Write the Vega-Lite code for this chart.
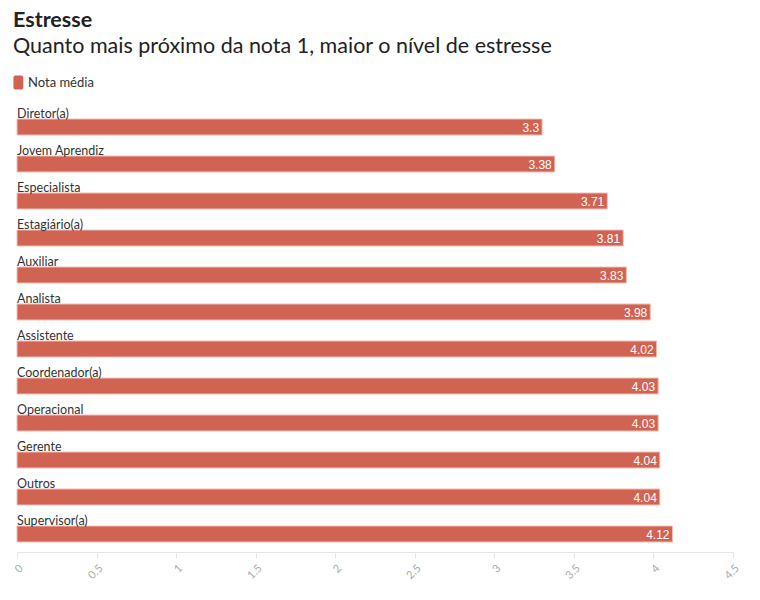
{
  "$schema": "https://vega.github.io/schema/vega-lite/v6.json",
  "width": 716,
  "height": 444,
  "autosize": {"type": "none"},
  "padding": {"left": 17, "top": 100, "right": 27, "bottom": 56},
  "background": "white",
  "title": {
    "text": "Estresse",
    "subtitle": "Quanto mais próximo da nota 1, maior o nível de estresse",
    "anchor": "start",
    "frame": "group",
    "dx": -4,
    "font": "Lato",
    "fontSize": 21.5,
    "fontWeight": "bold",
    "color": "#222222",
    "subtitleFont": "Lato",
    "subtitleFontSize": 21.5,
    "subtitleColor": "#222222",
    "subtitlePadding": 4,
    "offset": 18
  },
  "config": {
    "view": {"stroke": null},
    "font": "Lato"
  },
  "data": {
    "values": [
      {"cargo": "Diretor(a)", "nota": 3.3},
      {"cargo": "Jovem Aprendiz", "nota": 3.38},
      {"cargo": "Especialista", "nota": 3.71},
      {"cargo": "Estagiário(a)", "nota": 3.81},
      {"cargo": "Auxiliar", "nota": 3.83},
      {"cargo": "Analista", "nota": 3.98},
      {"cargo": "Assistente", "nota": 4.02},
      {"cargo": "Coordenador(a)", "nota": 4.03},
      {"cargo": "Operacional", "nota": 4.03},
      {"cargo": "Gerente", "nota": 4.04},
      {"cargo": "Outros", "nota": 4.04},
      {"cargo": "Supervisor(a)", "nota": 4.12}
    ]
  },
  "encoding": {
    "y": {"field": "cargo", "type": "nominal", "sort": null, "axis": null, "scale": {"paddingInner": 0, "paddingOuter": 0}}
  },
  "layer": [
    {
      "mark": {"type": "bar", "height": {"band": 0.432}, "yOffset": 8.5, "stroke": "#f2bdb5", "strokeWidth": 1},
      "encoding": {
        "x": {
          "field": "nota", "type": "quantitative",
          "scale": {"domain": [0, 4.5], "nice": false},
          "axis": {
            "title": null, "values": [0, 0.5, 1, 1.5, 2, 2.5, 3, 3.5, 4, 4.5],
            "format": ".1~f",
            "labelAngle": -45, "labelColor": "#aaaaaa", "labelFontSize": 11,
            "domainColor": "#e6e6e6", "tickColor": "#e6e6e6", "tickSize": 6,
            "grid": false, "offset": 8, "labelPadding": 4
          }
        },
        "color": {
          "datum": "Nota média",
          "scale": {"range": ["#d16352"]},
          "legend": {
            "title": null, "orient": "none", "legendX": -4, "legendY": -25,
            "direction": "horizontal",
            "labelFontSize": 13, "labelColor": "#333333",
            "symbolType": "M-0.7,-1 H0.1 A0.3,0.3 0 0 1 0.4,-0.7 V0.7 A0.3,0.3 0 0 1 0.1,1 H-0.7 A0.3,0.3 0 0 1 -1,0.7 V-0.7 A0.3,0.3 0 0 1 -0.7,-1 Z",
            "symbolSize": 200, "symbolStrokeWidth": 0, "symbolOpacity": 1,
            "labelOffset": 0
          }
        }
      }
    },
    {
      "mark": {"type": "text", "align": "right", "baseline": "middle", "dx": -3, "yOffset": 9, "color": "white", "fontSize": 12, "font": "Liberation Sans"},
      "encoding": {
        "x": {"field": "nota", "type": "quantitative"},
        "text": {"field": "nota", "type": "quantitative"}
      }
    },
    {
      "mark": {"type": "text", "align": "left", "baseline": "alphabetic", "dy": -1, "color": "#333333", "fontSize": 12.5},
      "encoding": {
        "x": {"datum": 0},
        "text": {"field": "cargo"}
      }
    }
  ]
}
